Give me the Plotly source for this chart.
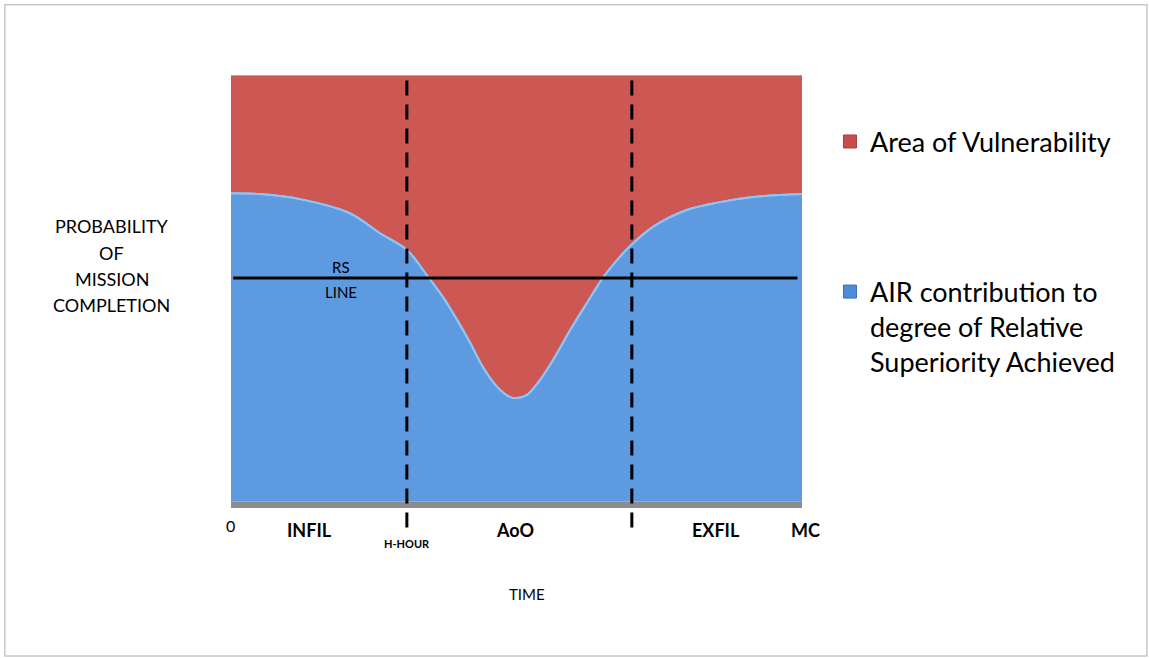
import plotly.graph_objects as go

# ---- data ----
time_x = [0, 5.1, 12.1, 20.8, 26.1, 30.8, 34.3, 37.1, 39.6, 41.9, 44.1, 46.6, 48.9, 50.1,
          51.8, 54.1, 56.4, 59.4, 62.3, 65.1, 67.6, 69.9, 73.9, 79.9, 85.6, 91.4, 100]
air_contribution = [72.3, 72.1, 70.9, 67.6, 62.9, 59.0, 53.1, 48.0, 42.6, 37.2, 31.6, 26.9, 24.5, 24.3,
                    25.0, 28.5, 33.2, 40.2, 46.5, 52.4, 56.6, 59.9, 64.4, 68.4, 70.2, 71.4, 72.1]
total_level = [100] * len(time_x)
rs_line_x = [0.4, 99.2]
rs_line_y = [52.4, 52.4]
phase_bounds = [30.8, 70.2]          # H-HOUR, end of AoO
phase_labels = ["0", "INFIL", "AoO", "EXFIL", "MC"]
phase_label_x = [0, 13.8, 49.8, 85.0, 100]
h_hour_label = "H-HOUR"
series_names = ["Area of Vulnerability", "AIR contribution to<br>degree of Relative<br>Superiority Achieved"]

RED = "#CD5753"
BLUE = "#5E9AE0"
FONT = "Lato"

fig = go.Figure()

# blue area
fig.add_trace(go.Scatter(x=time_x, y=air_contribution, mode="lines", line=dict(color="#92C6F6", width=2, shape="spline"),
                         fill="tozeroy", fillcolor=BLUE, showlegend=False, hoverinfo="skip"))
# red area on top
fig.add_trace(go.Scatter(x=time_x, y=total_level, mode="lines", line=dict(color="#EC8B88", width=2),
                         fill="tonexty", fillcolor=RED, showlegend=False, hoverinfo="skip"))
# highlight edge above red fill
fig.add_trace(go.Scatter(x=time_x, y=air_contribution, mode="lines", line=dict(color="#8EC3F4", width=2, shape="spline"),
                         showlegend=False, hoverinfo="skip"))
# RS line
fig.add_trace(go.Scatter(x=rs_line_x, y=rs_line_y, mode="lines", line=dict(color="black", width=3),
                         showlegend=False, hoverinfo="skip"))

# legend entries
fig.add_trace(go.Scatter(x=[None], y=[None], mode="markers", name=series_names[0], legendgroup="a",
                         marker=dict(symbol="square", size=13, color="#C64F4C", line=dict(color="#A83F3C", width=1))))
fig.add_trace(go.Scatter(x=[None], y=[None], mode="markers", name=series_names[1], legendgroup="b",
                         marker=dict(symbol="square", size=13, color="#4F8BD6", line=dict(color="#3A70B5", width=1))))

shapes = []
# floor strip
shapes.append(dict(type="rect", xref="x", yref="y", x0=0, x1=100, y0=-1.5, y1=0,
                   fillcolor="#8C8C8C", line=dict(width=0), layer="above"))
# dashed phase lines
for xb in phase_bounds:
    shapes.append(dict(type="line", xref="x", yref="paper", x0=xb, x1=xb, y0=-0.045, y1=1.0,
                       line=dict(color="black", width=3, dash="15px,9px"), layer="above"))
# outer border of chart
shapes.append(dict(type="rect", xref="paper", yref="paper", x0=-0.396, x1=1.604, y0=-0.342, y1=1.162,
                   line=dict(color="#C8C8C8", width=1.5), fillcolor="rgba(0,0,0,0)", layer="below"))

annotations = []
for lab, xv in zip(phase_labels, phase_label_x):
    bold = lab != "0"
    annotations.append(dict(x=xv, y=-0.05, xref="x", yref="paper", text=f"<b>{lab}</b>" if bold else lab,
                            showarrow=False, yanchor="middle", xanchor="center",
                            xshift=(3 if lab == "MC" else (-1 if lab == "0" else 0)),
                            yshift=(4 if lab == "0" else 0),
                            font=dict(family=FONT, size=18 if bold else 16, color="black")))
annotations.append(dict(x=phase_bounds[0], y=-0.083, xref="x", yref="paper", text=f"<b>{h_hour_label}</b>",
                        showarrow=False, yanchor="middle", font=dict(family=FONT, size=11, color="black")))
annotations.append(dict(x=51.9, y=-0.223, xref="x", yref="paper", text="TIME", showarrow=False,
                        font=dict(family=FONT, size=15, color="black")))
# RS LINE label
annotations.append(dict(x=19.3, y=54.9, xref="x", yref="y", text="RS", showarrow=False,
                        font=dict(family=FONT, size=15, color="black")))
annotations.append(dict(x=19.3, y=49.2, xref="x", yref="y", text="LINE", showarrow=False,
                        font=dict(family=FONT, size=15, color="black")))
# y title lines
ytitle = ["PROBABILITY", "OF", "MISSION", "COMPLETION"]
ypos = [0.652, 0.589, 0.529, 0.469]
for t, yp in zip(ytitle, ypos):
    annotations.append(dict(x=-0.209, y=yp, xref="paper", yref="paper", text=t, showarrow=False,
                            xanchor="center", yanchor="middle", font=dict(family=FONT, size=18, color="black")))

fig.update_layout(
    width=1149, height=658,
    margin=dict(l=231, r=347, t=75, b=150),
    paper_bgcolor="white", plot_bgcolor="white",
    xaxis=dict(range=[0, 100], visible=False, fixedrange=True),
    yaxis=dict(range=[-1.5, 100], visible=False, fixedrange=True),
    shapes=shapes, annotations=annotations,
    showlegend=True,
    legend=dict(x=1.049, y=0.902, xanchor="left", yanchor="top", font=dict(family=FONT, size=27, color="black"),
                tracegroupgap=112, valign="top", bgcolor="rgba(0,0,0,0)", itemclick=False),
)

fig.write_html("out.html", config={"displayModeBar": False},
               post_script="document.body.style.margin='0';")
